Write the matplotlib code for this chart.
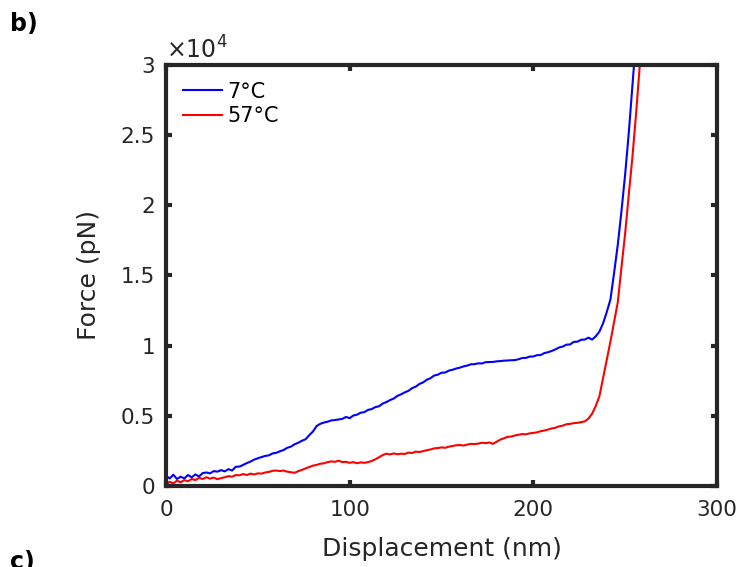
import numpy as np
import matplotlib
matplotlib.use("Agg")
import matplotlib.pyplot as plt

# force-displacement traces, displacement in nm, force in pN
disp_cold = np.array([
    0, 2, 4, 6, 8, 10, 12, 14, 16, 18, 20, 22, 24, 26, 28, 30, 32, 34, 36, 38,
    40, 42, 44, 46, 48, 50, 52, 54, 56, 58, 60, 62, 64, 66, 68, 70, 72, 74, 76, 78,
    80, 82, 84, 86, 88, 90, 92, 94, 96, 98, 100, 102, 104, 106, 108, 110, 112, 114, 116, 118,
    120, 122, 124, 126, 128, 130, 132, 134, 136, 138, 140, 142, 144, 146, 148, 150, 152, 154, 156, 158,
    160, 162, 164, 166, 168, 170, 172, 174, 176, 178, 180, 182, 184, 186, 188, 190, 192, 194, 196, 198,
    200, 202, 204, 206, 208, 210, 212, 214, 216, 218, 220, 222, 224, 226, 228, 230, 232, 234, 236, 238,
    240, 242, 244, 246, 248, 250, 252, 254, 256])
force_cold = np.array([
    720, 540, 800, 500, 660, 540, 780, 620, 820, 680, 920, 960, 900, 1060, 1020, 1130, 1040, 1200, 1100, 1370,
    1380, 1500, 1630, 1740, 1880, 1970, 2060, 2140, 2180, 2320, 2360, 2470, 2560, 2720, 2800, 2970, 3080, 3220, 3330, 3620,
    3880, 4270, 4430, 4520, 4580, 4670, 4700, 4740, 4780, 4920, 4830, 5020, 5080, 5220, 5260, 5420, 5480, 5620, 5680, 5870,
    5980, 6120, 6230, 6420, 6530, 6670, 6780, 6970, 7080, 7270, 7380, 7570, 7680, 7870, 7930, 8070, 8080, 8220, 8280, 8370,
    8430, 8520, 8580, 8670, 8680, 8740, 8730, 8820, 8830, 8840, 8880, 8900, 8930, 8940, 8960, 8970, 9030, 9120, 9130, 9220,
    9230, 9320, 9330, 9470, 9530, 9620, 9730, 9870, 9930, 10070, 10080, 10270, 10280, 10420, 10430, 10570, 10430, 10670, 11000, 11600,
    12400, 13300, 15200, 17200, 19600, 22200, 25200, 28600, 32000])

disp_hot = np.array([
    0, 2, 4, 6, 8, 10, 12, 14, 16, 18, 20, 22, 24, 26, 28, 30, 32, 34, 36, 38,
    40, 42, 44, 46, 48, 50, 52, 54, 56, 58, 60, 62, 64, 66, 68, 70, 72, 74, 76, 78,
    80, 82, 84, 86, 88, 90, 92, 94, 96, 98, 100, 102, 104, 106, 108, 110, 112, 114, 116, 118,
    120, 122, 124, 126, 128, 130, 132, 134, 136, 138, 140, 142, 144, 146, 148, 150, 152, 154, 156, 158,
    160, 162, 164, 166, 168, 170, 172, 174, 176, 178, 180, 182, 184, 186, 188, 190, 192, 194, 196, 198,
    200, 202, 204, 206, 208, 210, 212, 214, 216, 218, 220, 222, 224, 226, 228, 230, 232, 234, 236, 238,
    240, 242, 244, 246, 248, 250, 252, 254, 256, 258, 260])
force_hot = np.array([
    100, 300, 180, 380, 260, 420, 330, 500, 420, 580, 500, 620, 520, 600, 480, 560, 620, 700, 660, 780,
    760, 850, 780, 880, 820, 900, 880, 960, 1000, 1080, 1100, 1060, 1100, 1020, 980, 940, 1050, 1150, 1250, 1350,
    1450, 1500, 1580, 1620, 1700, 1750, 1720, 1800, 1700, 1720, 1650, 1700, 1620, 1680, 1650, 1700, 1780, 1900, 2050, 2200,
    2300, 2250, 2320, 2260, 2300, 2280, 2380, 2350, 2450, 2420, 2480, 2550, 2600, 2680, 2700, 2750, 2720, 2800, 2850, 2900,
    2920, 2880, 2950, 3000, 2980, 3020, 3080, 3050, 3100, 3000, 3150, 3300, 3400, 3500, 3520, 3600, 3650, 3700, 3680, 3750,
    3780, 3820, 3900, 3950, 4020, 4100, 4150, 4250, 4300, 4400, 4420, 4480, 4500, 4550, 4600, 4800, 5150, 5700, 6400, 7700,
    9000, 10300, 11700, 13100, 15600, 18000, 20800, 23500, 26600, 30000, 33500])

labels = ["7°C", "57°C"]
xticks = [0, 100, 200, 300]
yticks = [0, 5000, 10000, 15000, 20000, 25000, 30000]
ytick_labels = ["0", "0.5", "1", "1.5", "2", "2.5", "3"]

frame = "#262626"

fig = plt.figure(figsize=(7.46, 5.67), dpi=100)
ax = fig.add_axes([0.2225, 0.1429, 0.7386, 0.7425])

ax.plot(disp_cold, force_cold, color="blue", lw=1.5, label=labels[0])
ax.plot(disp_hot, force_hot, color="red", lw=1.5, label=labels[1])

ax.set_xlim(0, 300)
ax.set_ylim(0, 30000)
ax.set_xticks(xticks)
ax.set_yticks(yticks)
ax.set_yticklabels(ytick_labels)
ax.tick_params(direction="in", length=4, width=3, color=frame, labelcolor=frame,
               labelsize=15.5, pad=8, top=True, right=True)
ax.tick_params(axis="x", pad=10)
for s in ax.spines.values():
    s.set_linewidth(3)
    s.set_color(frame)

ax.set_xlabel("Displacement (nm)", fontsize=18, color=frame, labelpad=12)
ax.set_ylabel("Force (pN)", fontsize=18, color=frame, labelpad=14)
ax.text(0.0, 1.003, r"$\times$10$^4$", transform=ax.transAxes, ha="left", va="bottom",
        fontsize=17, color=frame)

ax.legend(loc="upper left", frameon=False, fontsize=15, handlelength=1.9,
          handletextpad=0.25, labelspacing=0.2, borderaxespad=0.4)

fig.text(0.013, 0.978, "b)", fontsize=17, fontweight="bold", va="top", ha="left")
fig.text(0.013, -0.012, "c)", fontsize=17, fontweight="bold", va="bottom", ha="left")

fig.savefig("out.png", dpi=100)
